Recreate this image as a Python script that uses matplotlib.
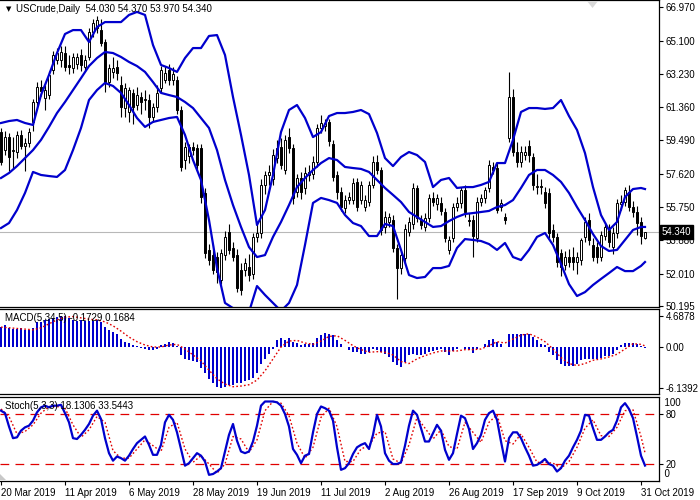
import numpy as np
import matplotlib
matplotlib.use("Agg")
import matplotlib.pyplot as plt
import matplotlib.transforms as mtransforms
from matplotlib.patches import Polygon

plt.rcParams['font.family'] = ['Liberation Sans', 'DejaVu Sans']

# ---- price data (daily candles) ----
opens = [59.95, 58.95, 59.69, 58.90, 58.84, 59.80, 59.18, 59.35, 60.52, 61.65,
         62.49, 61.87, 62.04, 63.45, 64.00, 64.01, 64.40, 63.73, 63.56, 63.80,
         64.29, 63.62, 64.18, 65.58, 65.80, 65.69, 65.02, 62.78, 63.34, 63.62,
         62.60, 61.31, 61.10, 62.15, 61.48, 61.93, 61.76, 61.76, 60.81, 61.37,
         62.43, 62.89, 63.45, 62.90, 62.89, 61.20, 58.39, 58.60, 59.13, 59.07,
         59.07, 56.54, 53.34, 53.06, 52.95, 51.66, 53.06, 54.35, 53.45, 53.06,
         52.22, 52.22, 52.39, 52.00, 54.07, 54.30, 57.00, 57.55, 57.30, 58.50,
         59.13, 57.83, 59.70, 59.07, 56.60, 57.38, 56.82, 57.55, 57.60, 58.28,
         60.19, 60.30, 60.50, 59.30, 57.55, 56.60, 55.70, 56.15, 56.15, 57.16,
         56.15, 55.75, 56.04, 57.00, 58.28, 57.83, 54.60, 54.90, 55.02, 53.45,
         52.33, 52.90, 54.35, 54.80, 56.82, 55.02, 54.63, 55.13, 56.26, 55.90,
         55.95, 55.47, 53.34, 54.01, 55.75, 55.98, 56.71, 55.02, 55.02, 54.01,
         56.04, 56.26, 56.82, 58.00, 57.94, 55.75, 55.19, 59.63, 61.93, 58.84,
         58.28, 58.67, 59.20, 58.56, 56.88, 56.95, 56.60, 56.54, 54.46, 54.07,
         53.17, 52.50, 52.95, 52.95, 52.67, 52.78, 54.07, 55.02, 53.62, 53.51,
         52.95, 54.10, 54.46, 53.50, 54.29, 55.90, 56.04, 56.60, 55.75, 55.47,
         54.91, 54.03]
highs = [60.20, 60.00, 59.90, 59.70, 60.00, 60.10, 59.60, 60.20, 61.80, 62.80,
         62.90, 62.60, 63.40, 64.50, 64.70, 64.80, 64.80, 64.30, 64.40, 64.40,
         64.60, 64.30, 65.80, 66.30, 66.50, 66.30, 65.20, 63.80, 64.20, 64.00,
         63.10, 62.70, 62.50, 62.40, 62.50, 62.20, 62.30, 62.10, 61.60, 62.60,
         63.70, 63.70, 63.80, 63.60, 63.10, 61.40, 59.40, 59.30, 59.40, 59.30,
         59.30, 56.80, 53.70, 53.60, 53.20, 53.40, 54.40, 54.80, 53.80, 53.40,
         52.60, 52.90, 53.10, 54.30, 54.80, 57.30, 57.80, 58.10, 59.00, 59.50,
         59.60, 59.80, 60.20, 59.30, 57.60, 57.70, 58.00, 58.10, 58.60, 60.40,
         60.90, 60.70, 60.70, 59.50, 57.80, 56.90, 56.40, 56.60, 57.40, 57.40,
         57.20, 56.40, 57.20, 58.60, 58.70, 58.00, 55.50, 55.40, 55.30, 53.70,
         53.30, 54.80, 55.20, 57.10, 57.00, 55.30, 55.40, 56.50, 56.60, 56.50,
         56.30, 55.70, 54.10, 56.00, 56.30, 56.90, 57.00, 55.40, 55.30, 56.30,
         56.50, 56.90, 58.40, 58.30, 58.20, 56.20, 55.40, 63.34, 62.40, 59.40,
         59.20, 59.20, 59.50, 58.80, 57.60, 57.30, 56.90, 56.80, 54.80, 54.30,
         53.40, 53.30, 53.40, 53.50, 53.20, 54.00, 55.20, 55.40, 54.00, 53.80,
         54.40, 54.90, 54.80, 54.60, 56.20, 56.40, 56.90, 57.00, 56.10, 55.80,
         55.20, 54.37]
lows = [58.10, 58.70, 57.80, 57.90, 58.50, 59.00, 57.80, 59.10, 60.00, 61.40,
        62.00, 61.20, 61.80, 63.20, 63.80, 63.60, 63.40, 63.20, 63.30, 63.50,
        63.40, 63.40, 64.00, 65.30, 65.50, 64.80, 62.20, 62.50, 63.00, 62.90,
        60.80, 60.80, 60.50, 60.40, 61.20, 61.00, 61.20, 60.20, 60.50, 61.10,
        62.20, 62.70, 62.60, 62.60, 61.00, 57.80, 57.90, 58.20, 58.70, 57.80,
        56.00, 52.90, 52.50, 52.00, 51.49, 51.40, 52.80, 53.10, 52.70, 51.00,
        50.80, 51.90, 51.60, 51.70, 53.80, 54.00, 56.50, 57.00, 57.00, 58.20,
        57.90, 57.60, 58.80, 55.90, 56.30, 56.20, 56.50, 57.20, 57.30, 58.00,
        59.90, 60.00, 59.20, 57.20, 56.20, 55.50, 55.40, 55.90, 55.90, 55.50,
        55.90, 55.50, 55.80, 56.80, 57.60, 54.20, 54.30, 54.60, 53.20, 50.59,
        52.00, 52.60, 54.10, 54.50, 54.90, 54.50, 54.40, 54.90, 55.80, 55.60,
        55.30, 53.80, 53.10, 53.80, 55.50, 55.70, 55.20, 54.70, 52.95, 53.80,
        55.80, 56.00, 56.60, 57.60, 55.40, 55.50, 54.80, 59.40, 58.60, 58.00,
        58.00, 58.40, 58.30, 56.70, 56.50, 56.50, 55.70, 54.00, 53.80, 52.40,
        51.90, 52.20, 52.40, 52.20, 52.00, 52.50, 53.80, 53.60, 52.70, 52.60,
        52.70, 53.90, 53.50, 53.10, 54.00, 55.60, 55.80, 55.50, 55.20, 54.20,
        53.70, 53.97]
closes = [58.30, 59.69, 58.56, 58.95, 59.80, 59.18, 59.35, 59.97, 61.65, 62.49,
          62.26, 62.32, 63.17, 64.29, 64.40, 64.46, 63.62, 63.62, 64.18, 64.20,
          63.73, 64.01, 65.58, 66.09, 66.26, 64.96, 62.78, 63.56, 63.56, 63.28,
          61.37, 62.43, 62.30, 61.37, 62.04, 61.65, 61.80, 60.81, 61.37, 62.15,
          63.45, 63.28, 62.89, 63.20, 61.20, 58.00, 59.13, 59.10, 58.95, 58.11,
          56.32, 53.17, 52.78, 52.22, 52.11, 53.17, 54.07, 53.34, 52.95, 51.21,
          51.09, 52.61, 51.94, 54.07, 54.30, 57.00, 57.55, 57.72, 58.67, 59.07,
          58.11, 59.52, 59.07, 56.26, 57.38, 56.60, 57.66, 57.72, 58.28, 60.19,
          60.47, 60.47, 59.46, 57.44, 56.60, 55.75, 56.15, 56.32, 57.10, 55.75,
          57.00, 56.15, 57.00, 58.28, 57.83, 54.46, 55.19, 55.19, 53.45, 52.33,
          53.06, 54.52, 54.91, 56.82, 55.13, 54.74, 55.13, 56.26, 56.04, 56.26,
          55.50, 54.01, 53.90, 55.75, 55.98, 56.71, 55.47, 54.96, 54.13, 56.04,
          56.26, 56.71, 58.11, 57.83, 55.58, 55.98, 55.02, 61.93, 58.84, 58.28,
          58.84, 58.84, 58.67, 57.00, 56.95, 56.88, 55.98, 54.29, 54.07, 52.67,
          52.39, 52.95, 52.67, 52.67, 52.95, 53.90, 54.91, 53.90, 52.95, 52.95,
          54.18, 54.63, 53.79, 54.29, 55.98, 56.04, 56.71, 55.75, 55.47, 54.85,
          54.13, 54.34]

# Bollinger bands, read every second bar
bb_upper = [60.47, 60.58, 60.64, 60.47, 60.36, 62.04, 63.17, 64.40, 65.47, 65.69,
            65.69, 65.02, 65.86, 66.14, 66.14, 66.14, 66.54, 66.71, 66.54, 64.85,
            63.73, 63.56, 63.34, 64.12, 64.68, 64.68, 65.36, 65.41, 64.29, 61.93,
            59.80, 57.55, 54.74, 55.58, 57.55, 59.96, 61.20, 61.48, 60.75, 59.68,
            59.96, 60.86, 61.03, 61.03, 61.09, 61.20, 60.97, 59.91, 58.50, 58.05,
            58.56, 58.84, 58.67, 58.28, 56.87, 57.27, 57.38, 56.82, 56.87, 56.87,
            56.99, 57.16, 58.22, 58.22, 59.52, 61.09, 61.31, 61.31, 61.26, 61.31,
            61.76, 60.86, 60.08, 58.78, 56.87, 55.30, 54.46, 54.91, 56.31, 56.76,
            56.82, 56.76]
bb_middle = [57.38, 57.66, 58.05, 58.50, 58.95, 59.52, 60.25, 61.03, 61.65, 62.32,
             62.99, 63.67, 64.12, 64.46, 64.40, 64.18, 63.90, 63.67, 63.34, 62.77,
             62.16, 62.04, 61.93, 61.65, 61.31, 60.75, 60.19, 58.95, 57.27, 55.86,
             54.63, 53.50, 52.94, 53.05, 54.07, 54.91, 55.86, 56.87, 57.38, 57.83,
             58.22, 58.50, 58.39, 58.00, 57.94, 57.89, 57.72, 57.27, 56.82, 56.43,
             56.03, 55.47, 55.19, 54.91, 54.63, 54.68, 54.96, 55.19, 55.36, 55.41,
             55.47, 55.53, 55.75, 55.86, 56.14, 56.82, 57.55, 57.83, 57.83, 57.55,
             57.16, 56.54, 55.75, 55.02, 54.23, 53.56, 53.28, 53.34, 53.90, 54.46,
             54.63, 54.63]
bb_lower = [54.57, 54.85, 55.58, 56.54, 57.72, 57.55, 57.49, 57.44, 57.83, 58.95,
            60.19, 61.76, 62.32, 62.72, 62.55, 62.16, 61.48, 60.75, 60.25, 60.53,
            60.64, 60.75, 60.81, 59.80, 58.39, 57.27, 55.02, 52.32, 50.36, 50.07,
            49.51, 49.85, 51.31, 50.81, 50.36, 49.91, 50.36, 51.37, 53.62, 55.98,
            56.26, 56.14, 55.98, 55.30, 54.85, 54.68, 54.12, 54.12, 54.80, 54.68,
            53.34, 51.93, 51.76, 51.82, 52.32, 52.32, 52.44, 53.45, 53.95, 53.90,
            53.84, 53.67, 53.34, 53.73, 52.94, 52.77, 53.34, 54.07, 54.29, 53.62,
            52.55, 51.42, 50.75, 50.97, 51.37, 51.71, 52.04, 52.38, 52.15, 52.15,
            52.44, 52.66]

# MACD(5,34,5)
macd_hist = [3.0, 3.3, 2.8, 2.7, 2.7, 2.8, 2.5, 2.5, 2.8, 3.8,
             3.8, 4.1, 4.3, 4.4, 4.6, 4.65, 4.69, 4.4, 4.1, 4.0,
             4.1, 3.9, 4.0, 4.0, 4.1, 3.8, 3.0, 2.5, 2.3, 2.0,
             1.26, 0.76, 0.6, 0.25, 0.1, -0.15, -0.25, -0.5, -0.5, -0.25,
             0.25, 0.4, 0.75, 0.65, 0.1, -1.26, -1.76, -2.0, -2.1, -2.27,
             -3.1, -4.0, -4.8, -5.5, -6.0, -6.14, -6.0, -5.8, -5.7, -5.5,
             -5.4, -5.2, -5.0, -4.7, -4.0, -2.5, -1.76, -1.1, -0.35, 1.0,
             1.4, 1.1, 1.4, 0.75, 0.6, 0.25, 0.4, 0.4, 0.6, 1.4,
             1.76, 2.1, 2.0, 1.76, 1.1, 0.4, 0.0, -0.5, -0.75, -0.75,
             -1.0, -1.1, -0.75, -0.25, -0.5, -0.75, -1.0, -1.5, -2.27, -2.77,
             -3.0, -2.27, -1.26, -1.1, -1.26, -1.26, -1.0, -0.75, -0.6, -0.5,
             -0.25, -0.75, -1.26, -0.6, -0.25, 0.0, -0.25, -0.5, -0.9, -0.25,
             0.0, 0.4, 1.1, 1.26, 0.75, 0.4, 0.02, 1.9, 2.0, 2.0,
             2.0, 2.0, 1.9, 1.5, 1.0, 0.5, 0.25, -0.75, -1.26, -2.0,
             -2.5, -2.87, -2.87, -2.87, -2.6, -2.0, -1.86, -1.86, -1.86, -1.76,
             -1.6, -1.4, -1.4, -1.1, -0.5, 0.25, 0.65, 0.65, 0.6, 0.5,
             0.1, -0.1729]
macd_signal = [3.0, 2.9, 2.8, 2.7, 2.6, 2.9, 3.5, 4.1, 4.5, 4.6,
               4.4, 4.2, 4.1, 3.8, 3.2, 2.4, 1.5, 0.8, 0.3, 0.0,
               0.0, 0.3, 0.4, -0.3, -1.2, -2.1, -3.5, -4.8, -5.6, -6.0,
               -5.9, -5.7, -5.0, -3.6, -1.8, 0.0, 0.9, 1.0, 0.6, 0.4,
               0.9, 1.6, 1.7, 1.0, 0.2, -0.4, -0.8, -0.7, -0.8, -1.2,
               -2.2, -2.5, -1.8, -1.3, -0.9, -0.6, -0.6, -0.6, -0.4, -0.4,
               -0.3, 0.2, 0.8, 0.6, 1.2, 1.8, 2.0, 1.5, 0.8, -0.3,
               -1.6, -2.5, -2.8, -2.5, -2.0, -1.8, -1.5, -1.1, -0.3, 0.5,
               0.4, 0.1684]

# Stochastic(5,3,3)
stoch_main = [84, 81, 65, 51, 52, 60, 64, 66, 72, 82,
              88, 90, 88, 90, 90, 91, 81, 70, 51, 50,
              55, 61, 68, 78, 84, 74, 51, 33, 24, 29,
              27, 24, 30, 38, 45, 49, 53, 43, 31, 31,
              43, 70, 79, 73, 58, 38, 18, 21, 27, 33,
              30, 23, 7, 8, 11, 15, 35, 55, 68, 48,
              35, 33, 35, 47, 66, 90, 95, 95, 95, 94,
              90, 80, 65, 38, 31, 21, 30, 32, 58, 80,
              89, 87, 84, 72, 40, 13, 15, 21, 32, 40,
              43, 45, 38, 55, 79, 65, 33, 24, 20, 20,
              22, 42, 66, 84, 79, 63, 47, 47, 57, 67,
              60, 37, 25, 33, 56, 78, 75, 62, 38, 45,
              55, 73, 81, 84, 73, 47, 23, 51, 58, 58,
              51, 40, 30, 18, 19, 22, 26, 20, 18, 11,
              15, 24, 30, 40, 49, 60, 79, 78, 63, 49,
              49, 53, 58, 61, 72, 88, 93, 86, 75, 53,
              30, 18.1306]
stoch_signal = [86, 77, 56, 59, 67, 81, 89, 89, 87, 67,
                52, 61, 77, 70, 36, 27, 27, 38, 49, 42,
                35, 64, 70, 38, 22, 30, 20, 9, 20, 53,
                50, 34, 49, 84, 95, 93, 78, 45, 27, 40,
                76, 87, 65, 23, 23, 38, 42, 57, 59, 26,
                21, 43, 76, 63, 50, 61, 41, 38, 70, 58,
                46, 70, 79, 48, 44, 56, 40, 22, 22, 21,
                15, 23, 40, 63, 73, 54, 53, 64, 84, 85,
                53, 33.5443]

dates = ['20 Mar 2019', '11 Apr 2019', '6 May 2019', '28 May 2019', '19 Jun 2019',
         '11 Jul 2019', '2 Aug 2019', '26 Aug 2019', '17 Sep 2019', '9 Oct 2019',
         '31 Oct 2019']

price_ticks = [66.970, 65.100, 63.230, 61.360, 59.490, 57.620, 55.750, 53.880, 52.010, 50.195]
last_price = 54.340

# ---- layout ----
blue = '#0000CD'
red = '#E00000'
n = len(closes)
x = np.arange(n)
sx = list(range(0, n - 1, 2)) + [n - 1]   # bars where lines were read

W, H = 700, 500
fig = plt.figure(figsize=(7, 5), dpi=100)
ax1 = fig.add_axes([0, 1 - 307 / H, 659 / W, 307 / H])
ax2 = fig.add_axes([0, 1 - 394 / H, 659 / W, 85 / H])
ax3 = fig.add_axes([0, 1 - 481 / H, 659 / W, 84 / H])

for ax in (ax1, ax2, ax3):
    ax.set_xlim(-0.25, 164.5)
    ax.spines['left'].set_visible(False)
    for s in ('top', 'bottom', 'right'):
        ax.spines[s].set_linewidth(0.9)
    ax.yaxis.tick_right()
    ax.tick_params(axis='y', length=3, width=0.8, pad=2, labelsize=7)
    ax.tick_params(axis='x', length=0, labelbottom=False)

# --- main price panel ---
o = np.array(opens); c = np.array(closes)
up = c >= o
ax1.vlines(x, lows, highs, color='black', lw=0.8, zorder=2)
ax1.bar(x[up], np.maximum(c - o, 0.03)[up], bottom=o[up], width=0.6,
        color='white', edgecolor='black', lw=0.7, zorder=3)
ax1.bar(x[~up], (o - c)[~up], bottom=c[~up], width=0.6,
        color='black', edgecolor='black', lw=0.7, zorder=3)
for band in (bb_upper, bb_middle, bb_lower):
    ax1.plot(sx, band, color=blue, lw=1.6, zorder=4, solid_joinstyle='round')
ax1.axhline(last_price, color='#B8B8B8', lw=0.8, zorder=1)
ax1.set_ylim(50.133, 67.38)
ax1.set_yticks(price_ticks)
ax1.set_yticklabels(['%.3f' % v for v in price_ticks])
tr = mtransforms.blended_transform_factory(ax1.transAxes, ax1.transData)
ax1.text(1.004, last_price, '%.3f' % last_price, transform=tr, color='white',
         fontsize=7, ha='left', va='center', zorder=10, clip_on=False,
         bbox=dict(boxstyle='square,pad=0.18', fc='black', ec='black'))

fig.text(6 / W, 1 - 9 / H, '\u25BC', fontsize=5, va='center', ha='left',
         family=['DejaVu Sans'])
fig.text(16 / W, 1 - 8.5 / H, 'USCrude,Daily  54.030 54.370 53.970 54.340',
         fontsize=7, va='center', ha='left')
fig.patches.append(Polygon([[587 / W, 1 - 1 / H], [598 / W, 1 - 1 / H], [592.5 / W, 1 - 8 / H]],
                           closed=True, transform=fig.transFigure, fc='#D8D8D8', ec='none'))

# --- MACD panel ---
ax2.bar(x, macd_hist, width=0.6, color=blue, zorder=2)
ax2.plot(sx, macd_signal, color=red, ls=(0, (1.2, 1.6)), lw=1.0, zorder=3)
ax2.set_ylim(-7.10, 5.74)
ax2.set_yticks([4.6878, 0.0, -6.1392])
ax2.set_yticklabels(['4.6878', '0.00', '-6.1392'])
ax2.text(5 / 659, 1 - 9 / 85, 'MACD(5,34,5) -0.1729 0.1684', transform=ax2.transAxes,
         fontsize=7, va='center', ha='left', zorder=10)

# --- Stochastic panel ---
ax3.axhline(80, color=red, lw=0.9, ls=(0, (7, 5)), zorder=1)
ax3.axhline(20, color=red, lw=0.9, ls=(0, (7, 5)), zorder=1)
ax3.plot(sx, stoch_signal, color=red, ls=(0, (1.2, 1.6)), lw=1.0, zorder=2)
ax3.plot(x, stoch_main, color=blue, lw=1.6, zorder=3)
ax3.set_ylim(-0.4, 100.4)
ax3.set_yticks([80, 20])
ax3.set_yticklabels(['80', '20'])
ax3.text(1.0, 1 - 6 / 84, '  100', transform=ax3.transAxes, fontsize=7, va='center', ha='left')
ax3.text(1.0, 7 / 84, '  0', transform=ax3.transAxes, fontsize=7, va='center', ha='left')
ax3.text(5 / 659, 1 - 9 / 84, 'Stoch(5,3,3) 18.1306 33.5443', transform=ax3.transAxes,
         fontsize=7, va='center', ha='left', zorder=10)
ax3.set_xticks(range(0, 161, 16))
ax3.set_xticklabels(dates, ha='left')
ax3.tick_params(axis='x', length=3, width=0.8, pad=2, labelsize=7, labelbottom=True)
fig.patches.append(Polygon([[0, 1 - 480 / H], [6 / W, 1 - 480 / H], [0, 1 - 474 / H]],
                           closed=True, transform=fig.transFigure, fc='#C8C8C8', ec='none'))

fig.savefig('out.png', dpi=100, facecolor='white')
